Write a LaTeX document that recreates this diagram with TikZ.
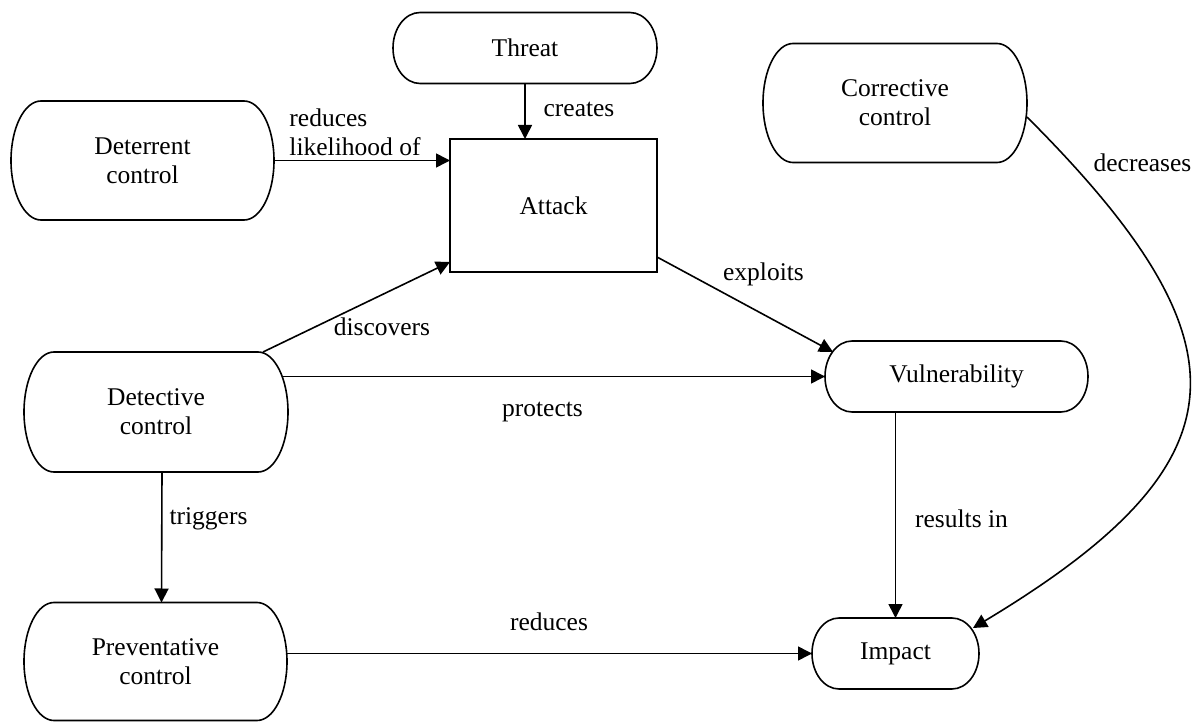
\documentclass[tikz,border=0pt]{standalone}
\usepackage{fontspec}
\setmainfont{Liberation Serif}
\usetikzlibrary{arrows.meta,calc}

% outline with elliptical ends round a named node: name, x radius, y radius
\newcommand{\drawpill}[3]{%
  \draw ([xshift=#2]#1.north west) -- ([xshift=-#2]#1.north east)
    arc[start angle=90, end angle=-90, x radius=#2, y radius=#3]
    -- ([xshift=#2]#1.south west)
    arc[start angle=270, end angle=90, x radius=#2, y radius=#3] -- cycle;}

\tikzset{
  ctrl/.style={minimum width=132pt, minimum height=59.5pt, inner sep=0pt, outer sep=0pt, align=center},
  item/.style={minimum width=132pt, minimum height=35.5pt, inner sep=0pt, outer sep=0pt, align=center},
  lbl/.style={inner sep=0pt, align=left},
  arr/.style={-{Triangle[length=7pt,width=7pt]}}
}

\begin{document}
\begin{tikzpicture}[x=0.5pt, y=0.5pt, line width=0.8pt, font=\fontsize{12.75}{14.5}\selectfont]
\useasboundingbox (0,0) rectangle (1201,-722);

% Threat and attack
\node[item] (threat) at (525,-48) {Threat};
\node[draw, minimum width=103.5pt, minimum height=66.5pt, outer sep=0pt] (attack) at (553.5,-205.5) {Attack};
\drawpill{threat}{13.5pt}{17.75pt}

% Controls
\node[ctrl, minimum width=131.5pt] (deter) at (142.5,-160.5) {Deterrent\\control};
\node[ctrl, minimum height=60pt] (detect) at (156,-412) {Detective\\control};
\node[ctrl, minimum width=131.5pt, minimum height=59pt] (prev) at (155.5,-661.5) {Preventative\\control};
\node[ctrl] (correct) at (895,-103) {Corrective\\control};
\drawpill{deter}{15pt}{29.75pt}
\drawpill{detect}{15pt}{30pt}
\drawpill{prev}{15pt}{29.5pt}
\drawpill{correct}{15pt}{29.75pt}

% Vulnerability and impact
\node[item, minimum width=131.5pt] (vul) at (956.5,-376.5) {Vulnerability};
\node[item, minimum width=83.5pt] (impact) at (895.5,-653.5) {Impact};
\drawpill{vul}{13.5pt}{17.75pt}
\drawpill{impact}{13.5pt}{17.75pt}

% Relations
\draw[arr] (threat.south) -- (threat.south |- attack.north);
\draw[arr] (deter.east) -- (deter.east -| attack.west);
\draw[arr] ([yshift=7.5pt]attack.south east) -- ([shift={(4pt,-5.5pt)}]vul.north west);
\draw[arr] ([xshift=-12.5pt]detect.north east) -- ([yshift=5pt]attack.south west);
\draw[arr] ($(detect.east |- vul.west)+(-3pt,0)$) -- (vul.west);
\draw[arr] ([xshift=3pt]detect.south) -- ([xshift=3pt]prev.north);
\draw[arr] (vul.south -| impact.north) -- (impact.north);
\draw[arr] (prev.east |- impact.west) -- (impact.west);
\draw[arr] ([yshift=-7pt]correct.east) to[out=-45, in=31, looseness=1.6] ([shift={(-3pt,-5pt)}]impact.north east);

% Labels
\node[lbl] (lcreates) at (579,-109) {creates};
\node[lbl] (lreduces) at (355,-132) {reduces\\likelihood of};
\node[lbl] (lexploits) at (763.5,-274) {exploits};
\node[lbl] (ldiscovers) at (382,-327) {discovers};
\node[lbl] (lprotects) at (542.5,-412) {protects};
\node[lbl] (ltriggers) at (208.5,-519) {triggers};
\node[lbl] (lresults) at (961.5,-519) {results in};
\node[lbl] (lreduces2) at (549,-622) {reduces};
\node[lbl] (ldecreases) at (1142.5,-163) {decreases};
\end{tikzpicture}
\end{document}
